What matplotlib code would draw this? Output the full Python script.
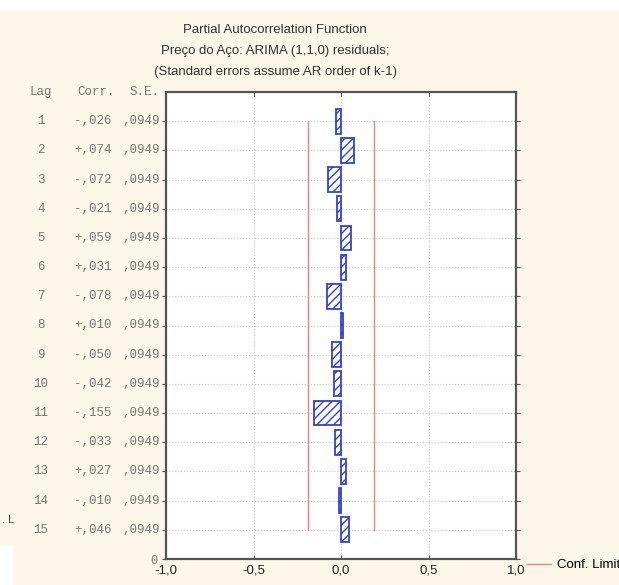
import matplotlib.pyplot as plt
import matplotlib.transforms as mtransforms
from matplotlib.patches import Rectangle
from matplotlib.lines import Line2D

lags = list(range(1, 16))
corr = [-0.026, 0.074, -0.072, -0.021, 0.059, 0.031, -0.078, 0.010,
        -0.050, -0.042, -0.155, -0.033, 0.027, -0.010, 0.046]
corr_txt = ['-,026', '+,074', '-,072', '-,021', '+,059', '+,031', '-,078', '+,010',
            '-,050', '-,042', '-,155', '-,033', '+,027', '-,010', '+,046']
se_txt = [',0949'] * 15
se = 0.0949
conf = 1.96 * se

xticks = [-1.0, -0.5, 0.0, 0.5, 1.0]
xtick_labels = ['-1,0', '-0,5', '0,0', '0,5', '1,0']

plt.rcParams['hatch.linewidth'] = 1.0
plt.rcParams['font.family'] = 'Liberation Sans'

W, H = 619, 585
fig = plt.figure(figsize=(W / 100, H / 100), dpi=100, facecolor='#fdf7ea')
# white strips from the screenshot edges
fig.patches.append(Rectangle((0, 1 - 10 / H), 1, 10 / H, transform=fig.transFigure,
                             facecolor='white', edgecolor='none', zorder=0))
fig.patches.append(Rectangle((0, 0), 13 / W, 40 / H, transform=fig.transFigure,
                             facecolor='white', edgecolor='none', zorder=0))

ax = fig.add_axes([166 / W, 1 - 559 / H, (516 - 166) / W, (559 - 92) / H])
ax.set_facecolor('white')

ax.barh(lags, corr, height=0.85, color='white', edgecolor='#3444c4',
        hatch='////', linewidth=1.3, zorder=3)
ax.plot([-conf, -conf], [1, 15], color='#f08080', lw=1, zorder=2)
ax.plot([conf, conf], [1, 15], color='#f08080', lw=1, zorder=2)

ax.set_xlim(-1, 1)
ax.set_ylim(16, 0)
ax.set_xticks(xticks)
ax.set_xticklabels(xtick_labels, fontsize=9.5, color='#222222')
ax.set_yticks(lags + [16])
ax.set_yticklabels([''] * 15 + ['0'], fontsize=8.5, color='#777777',
                   fontfamily='Liberation Mono')
ax.tick_params(axis='y', direction='out', length=3, left=True, right=True,
               color='#555555')
ax.tick_params(axis='x', direction='in', length=3, top=True, color='#555555', pad=4)
ax.grid(True, color='#c4c4c4', linestyle=':', linewidth=0.8, zorder=1)
for s in ax.spines.values():
    s.set_color('#555555')
    s.set_linewidth(1.6)

# table of lags / correlations / standard errors
tr = mtransforms.blended_transform_factory(fig.transFigure, ax.transData)
mono = dict(fontfamily='Liberation Mono', fontsize=9, color='#777777',
            va='center', transform=tr)
ax.text(41 / W, 0, 'Lag', ha='center', **mono)
ax.text(96 / W, 0, 'Corr.', ha='center', **mono)
ax.text(160 / W, 0, 'S.E.', ha='right', **mono)
for lag, c, s in zip(lags, corr_txt, se_txt):
    ax.text(41 / W, lag, str(lag), ha='center', **mono)
    ax.text(93 / W, lag, c, ha='center', **mono)
    ax.text(160 / W, lag, s, ha='right', **mono)

fig.text(275 / W, 1 - 30 / H, 'Partial Autocorrelation Function', ha='center',
         va='center', fontsize=9.5, color='#333333')
fig.text(275 / W, 1 - 51 / H, 'Preço do Aço: ARIMA (1,1,0) residuals;', ha='center',
         va='center', fontsize=9.5, color='#333333')
fig.text(275 / W, 1 - 72 / H, '(Standard errors assume AR order of k-1)', ha='center',
         va='center', fontsize=9.5, color='#333333')

fig.text(2 / W, 1 - 520 / H, '. L', ha='left', va='center', fontsize=8, color='#444444')

fig.legend(handles=[Line2D([], [], color='#f08080', lw=1)], labels=['Conf. Limit'],
           loc='center left', bbox_to_anchor=(515 / W, 1 - 565 / H), frameon=False,
           fontsize=9.5, handlelength=1.8, handletextpad=0.5)

fig.savefig('out.png', dpi=100, facecolor=fig.get_facecolor())
